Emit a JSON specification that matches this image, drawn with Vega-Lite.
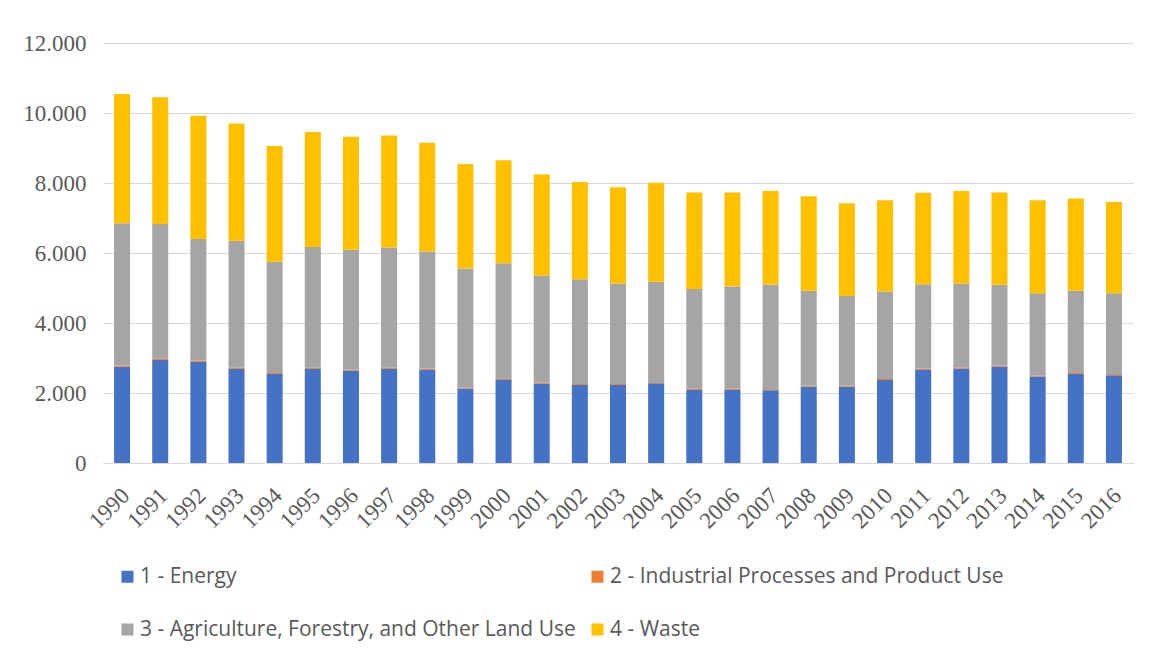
{
  "$schema": "https://vega.github.io/schema/vega-lite/v6.json",
  "autosize": "none",
  "width": 1030,
  "height": 420,
  "padding": {"left": 103, "top": 43, "right": 16, "bottom": 196},
  "background": "white",
  "config": {
    "font": "Open Sans",
    "view": {"stroke": null},
    "axis": {"labelColor": "#595959", "labelFont": "Liberation Serif"}
  },
  "data": {
    "values": [
      {"year": "1990", "sector": "1 - Energy", "value": 2750},
      {"year": "1990", "sector": "2 - Industrial Processes and Product Use", "value": 40},
      {"year": "1990", "sector": "3 - Agriculture, Forestry, and Other Land Use", "value": 4060},
      {"year": "1990", "sector": "4 - Waste", "value": 3690},
      {"year": "1991", "sector": "1 - Energy", "value": 2940},
      {"year": "1991", "sector": "2 - Industrial Processes and Product Use", "value": 40},
      {"year": "1991", "sector": "3 - Agriculture, Forestry, and Other Land Use", "value": 3850},
      {"year": "1991", "sector": "4 - Waste", "value": 3620},
      {"year": "1992", "sector": "1 - Energy", "value": 2890},
      {"year": "1992", "sector": "2 - Industrial Processes and Product Use", "value": 40},
      {"year": "1992", "sector": "3 - Agriculture, Forestry, and Other Land Use", "value": 3470},
      {"year": "1992", "sector": "4 - Waste", "value": 3520},
      {"year": "1993", "sector": "1 - Energy", "value": 2690},
      {"year": "1993", "sector": "2 - Industrial Processes and Product Use", "value": 30},
      {"year": "1993", "sector": "3 - Agriculture, Forestry, and Other Land Use", "value": 3630},
      {"year": "1993", "sector": "4 - Waste", "value": 3350},
      {"year": "1994", "sector": "1 - Energy", "value": 2540},
      {"year": "1994", "sector": "2 - Industrial Processes and Product Use", "value": 30},
      {"year": "1994", "sector": "3 - Agriculture, Forestry, and Other Land Use", "value": 3180},
      {"year": "1994", "sector": "4 - Waste", "value": 3310},
      {"year": "1995", "sector": "1 - Energy", "value": 2690},
      {"year": "1995", "sector": "2 - Industrial Processes and Product Use", "value": 30},
      {"year": "1995", "sector": "3 - Agriculture, Forestry, and Other Land Use", "value": 3450},
      {"year": "1995", "sector": "4 - Waste", "value": 3290},
      {"year": "1996", "sector": "1 - Energy", "value": 2640},
      {"year": "1996", "sector": "2 - Industrial Processes and Product Use", "value": 30},
      {"year": "1996", "sector": "3 - Agriculture, Forestry, and Other Land Use", "value": 3420},
      {"year": "1996", "sector": "4 - Waste", "value": 3230},
      {"year": "1997", "sector": "1 - Energy", "value": 2690},
      {"year": "1997", "sector": "2 - Industrial Processes and Product Use", "value": 30},
      {"year": "1997", "sector": "3 - Agriculture, Forestry, and Other Land Use", "value": 3440},
      {"year": "1997", "sector": "4 - Waste", "value": 3200},
      {"year": "1998", "sector": "1 - Energy", "value": 2660},
      {"year": "1998", "sector": "2 - Industrial Processes and Product Use", "value": 30},
      {"year": "1998", "sector": "3 - Agriculture, Forestry, and Other Land Use", "value": 3350},
      {"year": "1998", "sector": "4 - Waste", "value": 3110},
      {"year": "1999", "sector": "1 - Energy", "value": 2130},
      {"year": "1999", "sector": "2 - Industrial Processes and Product Use", "value": 30},
      {"year": "1999", "sector": "3 - Agriculture, Forestry, and Other Land Use", "value": 3400},
      {"year": "1999", "sector": "4 - Waste", "value": 2980},
      {"year": "2000", "sector": "1 - Energy", "value": 2390},
      {"year": "2000", "sector": "2 - Industrial Processes and Product Use", "value": 30},
      {"year": "2000", "sector": "3 - Agriculture, Forestry, and Other Land Use", "value": 3290},
      {"year": "2000", "sector": "4 - Waste", "value": 2940},
      {"year": "2001", "sector": "1 - Energy", "value": 2260},
      {"year": "2001", "sector": "2 - Industrial Processes and Product Use", "value": 30},
      {"year": "2001", "sector": "3 - Agriculture, Forestry, and Other Land Use", "value": 3060},
      {"year": "2001", "sector": "4 - Waste", "value": 2890},
      {"year": "2002", "sector": "1 - Energy", "value": 2230},
      {"year": "2002", "sector": "2 - Industrial Processes and Product Use", "value": 30},
      {"year": "2002", "sector": "3 - Agriculture, Forestry, and Other Land Use", "value": 2990},
      {"year": "2002", "sector": "4 - Waste", "value": 2780},
      {"year": "2003", "sector": "1 - Energy", "value": 2230},
      {"year": "2003", "sector": "2 - Industrial Processes and Product Use", "value": 30},
      {"year": "2003", "sector": "3 - Agriculture, Forestry, and Other Land Use", "value": 2870},
      {"year": "2003", "sector": "4 - Waste", "value": 2750},
      {"year": "2004", "sector": "1 - Energy", "value": 2280},
      {"year": "2004", "sector": "2 - Industrial Processes and Product Use", "value": 30},
      {"year": "2004", "sector": "3 - Agriculture, Forestry, and Other Land Use", "value": 2870},
      {"year": "2004", "sector": "4 - Waste", "value": 2830},
      {"year": "2005", "sector": "1 - Energy", "value": 2090},
      {"year": "2005", "sector": "2 - Industrial Processes and Product Use", "value": 30},
      {"year": "2005", "sector": "3 - Agriculture, Forestry, and Other Land Use", "value": 2850},
      {"year": "2005", "sector": "4 - Waste", "value": 2760},
      {"year": "2006", "sector": "1 - Energy", "value": 2090},
      {"year": "2006", "sector": "2 - Industrial Processes and Product Use", "value": 30},
      {"year": "2006", "sector": "3 - Agriculture, Forestry, and Other Land Use", "value": 2920},
      {"year": "2006", "sector": "4 - Waste", "value": 2690},
      {"year": "2007", "sector": "1 - Energy", "value": 2080},
      {"year": "2007", "sector": "2 - Industrial Processes and Product Use", "value": 30},
      {"year": "2007", "sector": "3 - Agriculture, Forestry, and Other Land Use", "value": 2990},
      {"year": "2007", "sector": "4 - Waste", "value": 2670},
      {"year": "2008", "sector": "1 - Energy", "value": 2180},
      {"year": "2008", "sector": "2 - Industrial Processes and Product Use", "value": 30},
      {"year": "2008", "sector": "3 - Agriculture, Forestry, and Other Land Use", "value": 2710},
      {"year": "2008", "sector": "4 - Waste", "value": 2700},
      {"year": "2009", "sector": "1 - Energy", "value": 2180},
      {"year": "2009", "sector": "2 - Industrial Processes and Product Use", "value": 30},
      {"year": "2009", "sector": "3 - Agriculture, Forestry, and Other Land Use", "value": 2560},
      {"year": "2009", "sector": "4 - Waste", "value": 2650},
      {"year": "2010", "sector": "1 - Energy", "value": 2370},
      {"year": "2010", "sector": "2 - Industrial Processes and Product Use", "value": 30},
      {"year": "2010", "sector": "3 - Agriculture, Forestry, and Other Land Use", "value": 2500},
      {"year": "2010", "sector": "4 - Waste", "value": 2610},
      {"year": "2011", "sector": "1 - Energy", "value": 2660},
      {"year": "2011", "sector": "2 - Industrial Processes and Product Use", "value": 30},
      {"year": "2011", "sector": "3 - Agriculture, Forestry, and Other Land Use", "value": 2420},
      {"year": "2011", "sector": "4 - Waste", "value": 2610},
      {"year": "2012", "sector": "1 - Energy", "value": 2700},
      {"year": "2012", "sector": "2 - Industrial Processes and Product Use", "value": 30},
      {"year": "2012", "sector": "3 - Agriculture, Forestry, and Other Land Use", "value": 2400},
      {"year": "2012", "sector": "4 - Waste", "value": 2640},
      {"year": "2013", "sector": "1 - Energy", "value": 2750},
      {"year": "2013", "sector": "2 - Industrial Processes and Product Use", "value": 30},
      {"year": "2013", "sector": "3 - Agriculture, Forestry, and Other Land Use", "value": 2310},
      {"year": "2013", "sector": "4 - Waste", "value": 2640},
      {"year": "2014", "sector": "1 - Energy", "value": 2470},
      {"year": "2014", "sector": "2 - Industrial Processes and Product Use", "value": 30},
      {"year": "2014", "sector": "3 - Agriculture, Forestry, and Other Land Use", "value": 2350},
      {"year": "2014", "sector": "4 - Waste", "value": 2660},
      {"year": "2015", "sector": "1 - Energy", "value": 2540},
      {"year": "2015", "sector": "2 - Industrial Processes and Product Use", "value": 30},
      {"year": "2015", "sector": "3 - Agriculture, Forestry, and Other Land Use", "value": 2350},
      {"year": "2015", "sector": "4 - Waste", "value": 2640},
      {"year": "2016", "sector": "1 - Energy", "value": 2510},
      {"year": "2016", "sector": "2 - Industrial Processes and Product Use", "value": 30},
      {"year": "2016", "sector": "3 - Agriculture, Forestry, and Other Land Use", "value": 2310},
      {"year": "2016", "sector": "4 - Waste", "value": 2610}
    ]
  },
  "mark": {"type": "bar"},
  "encoding": {
    "x": {
      "field": "year",
      "type": "ordinal",
      "title": null,
      "scale": {"paddingInner": 0.58, "paddingOuter": 0.29},
      "axis": {
        "labelAngle": -45,
        "labelFontSize": 23,
        "ticks": false,
        "domainColor": "#d9d9d9",
        "domainWidth": 1,
        "labelPadding": 21,
        "labelOffset": -4
      }
    },
    "y": {
      "field": "value",
      "type": "quantitative",
      "aggregate": "sum",
      "stack": "zero",
      "title": null,
      "scale": {"domain": [0, 12000], "nice": false},
      "axis": {
        "values": [0, 2000, 4000, 6000, 8000, 10000, 12000],
        "labelExpr": "replace(format(datum.value, ','), ',', '.')",
        "labelFontSize": 23,
        "labelPadding": 17,
        "ticks": false,
        "domain": false,
        "gridColor": "#d9d9d9",
        "gridWidth": 1
      }
    },
    "color": {
      "field": "sector",
      "type": "nominal",
      "scale": {
        "domain": [
          "1 - Energy",
          "2 - Industrial Processes and Product Use",
          "3 - Agriculture, Forestry, and Other Land Use",
          "4 - Waste"
        ],
        "range": ["#4472C4", "#ED7D31", "#A5A5A5", "#FFC000"]
      },
      "legend": {
        "title": null,
        "orient": "none",
        "legendX": 14,
        "legendY": 523,
        "direction": "horizontal",
        "columns": 2,
        "padding": 0,
        "symbolType": "square",
        "symbolSize": 144,
        "symbolStrokeWidth": 0,
        "labelFont": "Open Sans",
        "labelFontSize": 21,
        "labelColor": "#595959",
        "labelLimit": 0,
        "labelOffset": 2,
        "rowPadding": 31,
        "columnPadding": 11
      }
    },
    "order": {"field": "sector", "type": "nominal", "sort": "ascending"}
  }
}
